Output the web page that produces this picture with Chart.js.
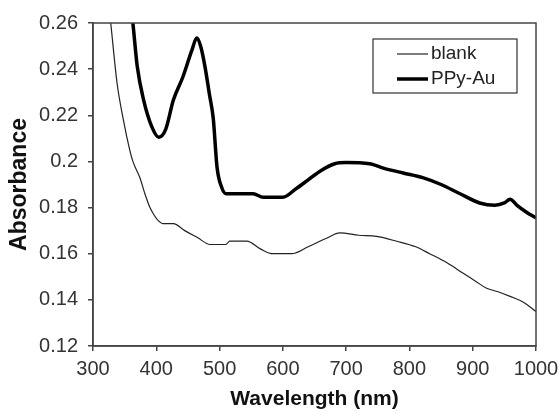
<!DOCTYPE html>
<html>
<head>
<meta charset="utf-8">
<script src="https://cdn.jsdelivr.net/npm/chart.js@4.4.1/dist/chart.umd.min.js"></script>
<style>
  html, body { margin: 0; padding: 0; background: #fff; }
  #wrap { width: 560px; height: 412px; }
</style>
</head>
<body>
<div id="wrap"><canvas id="absChart" width="560" height="412"></canvas></div>
<script>
// UV-vis spectra
const blankWavelength = [310, 320, 328, 338, 348, 358, 363, 374, 382, 390, 396, 401, 411, 427, 445, 465, 485, 510, 516, 543, 565, 584, 614, 640, 669, 690, 720, 748, 780, 810, 832, 860, 885, 905, 922, 940, 959, 980, 1000];
const blankAbs = [0.30, 0.28, 0.26, 0.234, 0.218, 0.205, 0.200, 0.193, 0.186, 0.180, 0.177, 0.175, 0.173, 0.173, 0.170, 0.167, 0.164, 0.164, 0.1655, 0.1655, 0.162, 0.160, 0.160, 0.163, 0.1667, 0.169, 0.168, 0.1675, 0.1654, 0.163, 0.160, 0.156, 0.1515, 0.148, 0.145, 0.1435, 0.1415, 0.139, 0.135];

const ppyWavelength = [350, 363, 370, 380, 393, 404, 415, 427, 442, 456, 464, 470, 477, 484, 490, 496, 503, 510, 553, 569, 600, 620, 640, 660, 682, 700, 737, 760, 790, 821, 850, 880, 911, 935, 950, 959, 970, 985, 1000];
const ppyAbs = [0.29, 0.26, 0.241, 0.2266, 0.215, 0.2105, 0.214, 0.2266, 0.2366, 0.248, 0.2535, 0.250, 0.241, 0.229, 0.2187, 0.1975, 0.189, 0.186, 0.186, 0.1845, 0.1845, 0.188, 0.192, 0.196, 0.199, 0.1995, 0.199, 0.197, 0.195, 0.193, 0.190, 0.186, 0.182, 0.181, 0.182, 0.1836, 0.181, 0.178, 0.1755];

const seriesLabels = ['blank', 'PPy-Au'];
const xTicks = [300, 400, 500, 600, 700, 800, 900, 1000];
const yTicks = [0.12, 0.14, 0.16, 0.18, 0.2, 0.22, 0.24, 0.26];

const toPoints = (xs, ys) => xs.map((x, i) => ({ x: x, y: ys[i] }));
const FONT = '"Liberation Sans", Arial, sans-serif';

// box around plot + boxed legend top right
const framePlugin = {
    id: 'frame',
    afterDraw(chart) {
        const ctx = chart.ctx;
        const a = chart.chartArea;
        ctx.save();
        ctx.strokeStyle = '#444';
        ctx.lineWidth = 1.5;
        ctx.strokeRect(a.left, a.top, a.right - a.left, a.bottom - a.top);

        const bw = 144, bh = 54;
        const bx = a.right - 19 - bw;
        const by = a.top + 16;
        ctx.fillStyle = '#fff';
        ctx.fillRect(bx, by, bw, bh);
        ctx.strokeStyle = '#333';
        ctx.lineWidth = 1.2;
        ctx.strokeRect(bx, by, bw, bh);

        ctx.font = '19px ' + FONT;
        ctx.textBaseline = 'middle';
        ctx.textAlign = 'left';
        chart.data.datasets.forEach((ds, i) => {
            const yy = by + 15 + i * 25;
            ctx.strokeStyle = ds.borderColor;
            ctx.lineWidth = ds.borderWidth;
            ctx.beginPath();
            ctx.moveTo(bx + 24, yy);
            ctx.lineTo(bx + 55, yy);
            ctx.stroke();
            ctx.fillStyle = '#222';
            ctx.fillText(ds.label, bx + 58, yy);
        });
        ctx.restore();
    }
};

const ctx = document.getElementById('absChart').getContext('2d');
new Chart(ctx, {
    type: 'line',
    data: {
        datasets: [{
            label: seriesLabels[0],
            data: toPoints(blankWavelength, blankAbs),
            borderColor: '#222',
            borderWidth: 1.2,
            pointRadius: 0,
            cubicInterpolationMode: 'monotone',
            fill: false
        }, {
            label: seriesLabels[1],
            data: toPoints(ppyWavelength, ppyAbs),
            borderColor: '#000',
            borderWidth: 3.5,
            pointRadius: 0,
            cubicInterpolationMode: 'monotone',
            fill: false
        }]
    },
    options: {
        responsive: false,
        animation: false,
        layout: { padding: { top: 23, right: 24, left: 0, bottom: 0 } },
        plugins: {
            legend: { display: false },
            tooltip: { enabled: false }
        },
        scales: {
            x: {
                type: 'linear',
                min: 300,
                max: 1000,
                afterFit: s => { s.height = 66; s.paddingLeft = 0; s.paddingRight = 0; },
                afterBuildTicks: s => { s.ticks = xTicks.map(v => ({ value: v })); },
                grid: { drawOnChartArea: false, drawTicks: true, tickLength: 5, color: '#444', lineWidth: 1.5 },
                border: { display: true, color: '#444', width: 1.5 },
                ticks: {
                    color: '#333',
                    padding: 6,
                    maxRotation: 0,
                    callback: v => String(v),
                    font: { family: FONT, size: 20 }
                },
                title: {
                    display: true,
                    text: 'Wavelength (nm)',
                    color: '#111',
                    padding: { top: 0, bottom: 0 },
                    font: { family: FONT, size: 21, weight: 'bold' }
                }
            },
            y: {
                min: 0.12,
                max: 0.26,
                afterFit: s => { s.width = 93; s.paddingTop = 0; s.paddingBottom = 0; },
                afterBuildTicks: s => { s.ticks = yTicks.map(v => ({ value: v })); },
                grid: { drawOnChartArea: false, drawTicks: true, tickLength: 5, color: '#444', lineWidth: 1.5 },
                border: { display: true, color: '#444', width: 1.5 },
                ticks: {
                    color: '#333',
                    padding: 10,
                    callback: v => String(+v.toFixed(2)),
                    font: { family: FONT, size: 20 }
                },
                title: {
                    display: true,
                    text: 'Absorbance',
                    color: '#111',
                    padding: { top: 6, bottom: 0 },
                    font: { family: FONT, size: 23, weight: 'bold' }
                }
            }
        }
    },
    plugins: [framePlugin]
});
</script>
</body>
</html>
